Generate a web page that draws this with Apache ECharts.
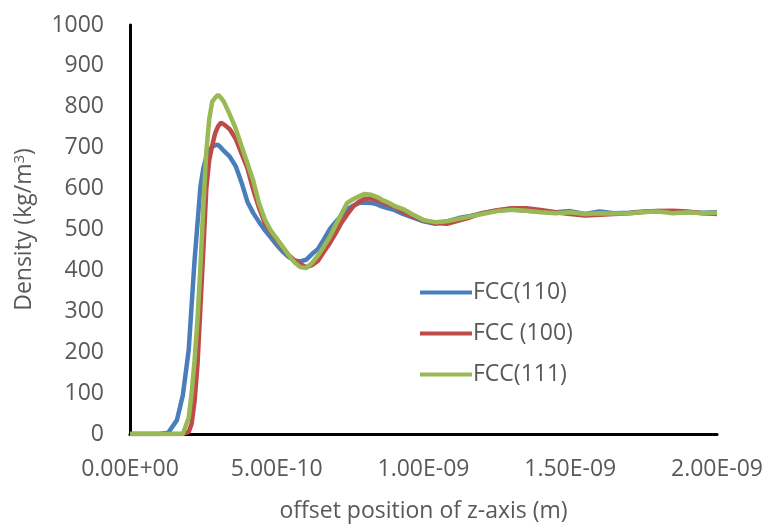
<!DOCTYPE html>
<html>
<head>
<meta charset="utf-8">
<script src="https://cdn.jsdelivr.net/npm/echarts@6/dist/echarts.min.js"></script>
<style>
  html, body { margin: 0; padding: 0; background: #fff; }
  #chart { width: 770px; height: 524px; }
</style>
</head>
<body>
<div id="chart"></div>
<script>
// z offset positions, in units of 1e-10 m
const offsets = [0, 0.5, 1.0, 1.3, 1.6, 1.8, 2.0, 2.1, 2.2, 2.3, 2.4, 2.5, 2.6, 2.7, 2.8, 2.9, 3.0, 3.1, 3.2, 3.4, 3.6, 3.8, 4.0, 4.2, 4.4, 4.6, 4.8, 5.0, 5.2, 5.4, 5.6, 5.8, 6.0, 6.2, 6.4, 6.6, 6.8, 7.0, 7.2, 7.4, 7.6, 7.8, 8.0, 8.2, 8.4, 8.6, 8.8, 9.0, 9.3, 9.6, 10.0, 10.4, 10.8, 11.2, 11.6, 12.0, 12.5, 13.0, 13.5, 14.0, 14.5, 15.0, 15.5, 16.0, 16.5, 17.0, 17.5, 18.0, 18.5, 19.0, 19.5, 20.0];

// density profiles (kg/m^3)
const fcc110 = [0, 0, 0, 3, 34, 95, 205, 315, 425, 515, 605, 650, 678, 695, 702, 706, 707, 700, 692, 678, 655, 615, 568, 540, 518, 498, 480, 462, 446, 433, 424, 422, 426, 440, 452, 475, 500, 518, 534, 549, 558, 565, 566, 565, 562, 556, 552, 548, 538, 530, 520, 514, 520, 528, 533, 540, 546, 549, 546, 544, 542, 545, 538, 544, 540, 541, 544, 545, 543, 542, 541, 542];
const fcc100 = [0, 0, 0, 0, 0, 0, 5, 25, 80, 170, 310, 450, 600, 670, 705, 735, 752, 761, 757, 745, 722, 686, 650, 597, 552, 515, 494, 475, 456, 438, 425, 416, 408, 413, 423, 445, 466, 490, 516, 537, 556, 568, 575, 576, 572, 567, 561, 556, 543, 533, 522, 516, 514, 522, 530, 540, 547, 552, 552, 548, 542, 538, 534, 536, 538, 540, 543, 545, 546, 544, 540, 538];
const fcc111 = [0, 0, 0, 0, 0, 0, 40, 100, 180, 280, 410, 560, 690, 770, 812, 822, 829, 822, 812, 781, 747, 704, 662, 619, 563, 524, 497, 478, 458, 438, 420, 408, 406, 418, 436, 458, 481, 510, 538, 565, 574, 581, 587, 585, 580, 572, 566, 558, 550, 538, 523, 518, 520, 526, 532, 538, 545, 548, 546, 542, 540, 542, 538, 540, 539, 540, 543, 544, 540, 542, 540, 541];

const seriesNames = ['FCC(110)', 'FCC (100)', 'FCC(111)'];
const seriesColors = ['#4a7ebb', '#be4b48', '#98b954'];
const seriesValues = [fcc110, fcc100, fcc111];

// Excel-style scientific label, e.g. 5.00E-10
function sci(v) {
  const m = v * 1e-10;
  if (Math.abs(m) < 1e-20) return '0.00E+00';
  const exp = Math.floor(Math.log10(Math.abs(m)) + 1e-9);
  const mant = m / Math.pow(10, exp);
  const sign = exp < 0 ? '-' : '+';
  const e = String(Math.abs(exp)).padStart(2, '0');
  return mant.toFixed(2) + 'E' + sign + e;
}

const FONT = '"Open Sans", sans-serif';
const TXT = '#595959';
const FS = 23;

const chart = echarts.init(document.getElementById('chart'), null, { renderer: 'canvas' });
chart.setOption({
  animation: false,
  backgroundColor: '#ffffff',
  grid: { left: 130, right: 53, top: 25, bottom: 90, containLabel: false, outerBoundsMode: 'none' },
  legend: {
    orient: 'vertical',
    left: 420,
    top: 277,
    padding: 0,
    icon: 'rect',
    itemWidth: 52,
    itemHeight: 4,
    itemGap: 10,
    textStyle: { fontFamily: FONT, fontSize: FS, color: TXT, padding: [0, 0, 0, -4], lineHeight: 31 },
    data: seriesNames
  },
  xAxis: [{
    type: 'value',
    min: 0, max: 20, interval: 5,
    name: 'offset position of z-axis (m)',
    nameLocation: 'middle',
    nameGap: 66,
    nameTextStyle: { fontFamily: FONT, fontSize: FS, color: TXT },
    axisLine: { show: true, lineStyle: { color: '#8c8c8c', width: 2.5 } },
    axisTick: { show: false },
    splitLine: { show: false },
    axisLabel: { formatter: sci, fontFamily: FONT, fontSize: FS, color: TXT, margin: 24 }
  }, {
    type: 'value', position: 'top', min: 0, max: 20,
    axisLine: { show: true, lineStyle: { color: '#000', width: 3 } },
    axisTick: { show: false }, axisLabel: { show: false }, splitLine: { show: false }
  }],
  yAxis: [{
    type: 'value',
    min: 0, max: 1000, interval: 100,
    name: 'Density (kg/m{sup|3})',
    nameLocation: 'middle',
    nameGap: 93,
    nameTextStyle: {
      fontFamily: FONT, fontSize: FS, color: TXT,
      rich: { sup: { fontFamily: FONT, fontSize: 15, color: TXT, verticalAlign: 'top', padding: [0, 0, 10, 0] } }
    },
    axisLine: { show: true, lineStyle: { color: '#8c8c8c', width: 2.5 } },
    axisTick: { show: false },
    splitLine: { show: false },
    axisLabel: { formatter: v => String(v), fontFamily: FONT, fontSize: FS, color: TXT, margin: 26 }
  }, {
    type: 'value', position: 'right', min: 0, max: 1000,
    axisLine: { show: true, lineStyle: { color: '#000', width: 3 } },
    axisTick: { show: false }, axisLabel: { show: false }, splitLine: { show: false }
  }],
  series: seriesValues.map((vals, i) => ({
    name: seriesNames[i],
    type: 'line',
    xAxisIndex: 0,
    yAxisIndex: 0,
    showSymbol: false,
    symbol: 'none',
    z: 2 + i,
    lineStyle: { color: seriesColors[i], width: 4.5 },
    itemStyle: { color: seriesColors[i] },
    data: offsets.map((x, k) => [x, vals[k]])
  }))
});
</script>
</body>
</html>
